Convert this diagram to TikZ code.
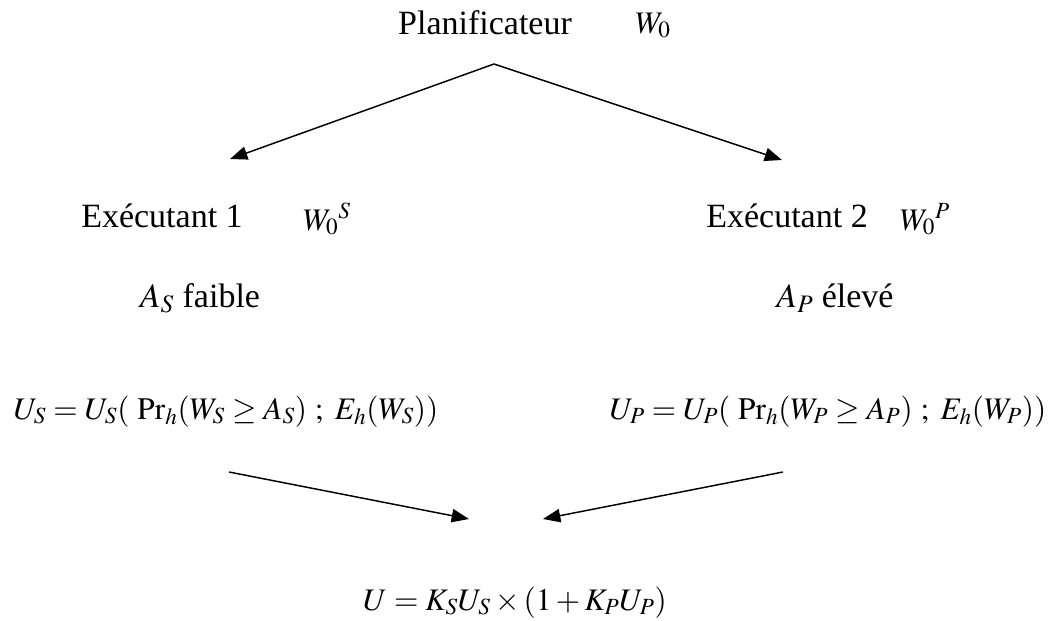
\documentclass[tikz,border=0pt]{standalone}
\usepackage{mathptmx}
\usepackage{fontspec}
\setmainfont{Liberation Serif}
\usetikzlibrary{arrows.meta, positioning}

\begin{document}
\begin{tikzpicture}[
    x=0.75pt, y=-0.75pt,
    txt/.style={font=\fontsize{25.5}{30}\selectfont, inner sep=0pt, anchor=base},
    eq/.style={font=\fontsize{23.5}{28}\selectfont, inner sep=0pt, anchor=base},
    arr/.style={-{Triangle[length=13pt, width=10pt]}, line width=1.1pt},
  ]
  \useasboundingbox (0,0) rectangle (1061,621);
  % planificateur
  \node[txt] (plan) at (485,35) {Planificateur};
  \node[eq] (w0) at (653,33) {$W_0$};
  % executants
  \node[txt] (ex1) at (162,227) {Exécutant 1};
  \node[eq] (w0s) at (327,230) {$W_0{}^S$};
  \node[txt] (ex2) at (787,227) {Exécutant 2};
  \node[eq] (w0p) at (925,230) {$W_0{}^P$};
  \node[txt] (as) at (200,307) {$A_S$ faible};
  \node[txt] (ap) at (835,307) {$A_P$ élevé};
  % utilites
  \node[eq] (us) at (226,419) {$U_S = U_S(\ \Pr_h(W_S \geq A_S)\ ;\ E_h(W_S))$};
  \node[eq] (up) at (828,419) {$U_P = U_P(\ \Pr_h(W_P \geq A_P)\ ;\ E_h(W_P))$};
  \node[eq] (u) at (515,610) {$U = K_S U_S \times (1 + K_P U_P)$};
  % fleches
  \coordinate (top) at (494,64);
  \coordinate (tl) at (230,159);
  \coordinate (tr) at (782,160);
  \coordinate (bl) at (229,472);
  \coordinate (br) at (783,472);
  \coordinate (el) at (469,519);
  \coordinate (er) at (543,519);
  \draw[arr] (top) -- (tl);
  \draw[arr] (top) -- (tr);
  \draw[arr] (bl) -- (el);
  \draw[arr] (br) -- (er);
\end{tikzpicture}
\end{document}
